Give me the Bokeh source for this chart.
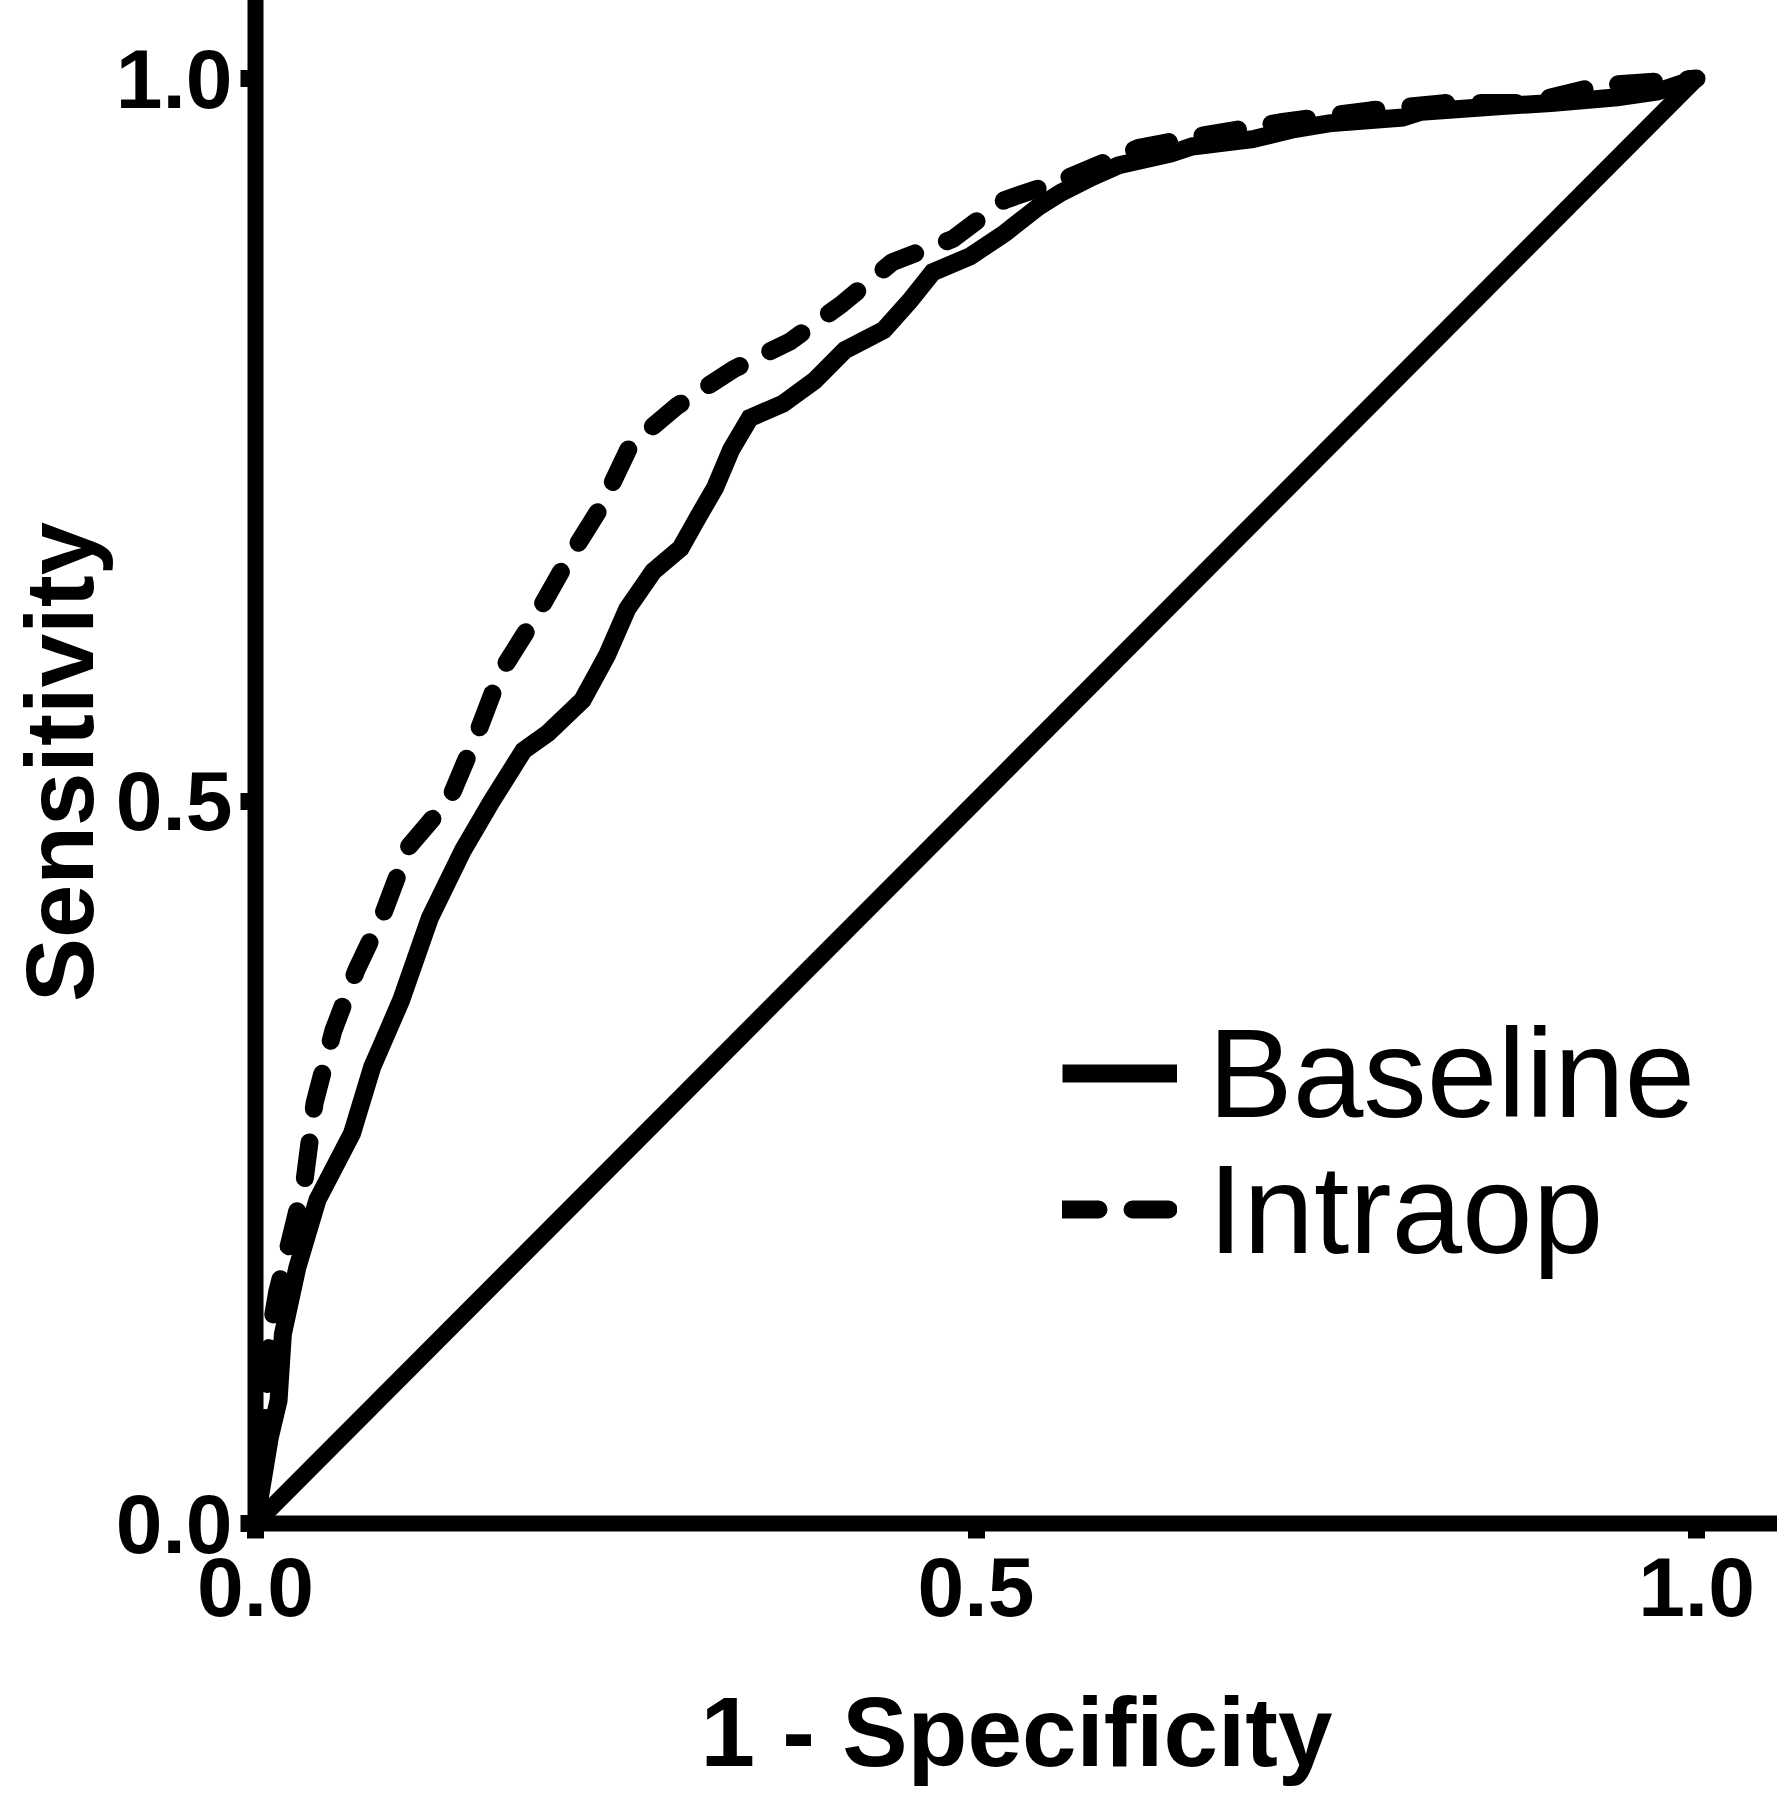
from bokeh.plotting import figure
from bokeh.models import Range1d, FixedTicker, Legend, LegendItem, PrintfTickFormatter
from bokeh.core.properties import value
from bokeh.embed import file_html
from bokeh.resources import INLINE

# ---- data (1 - specificity, sensitivity) ----
fpr_baseline = [0.0, 0.005, 0.010, 0.016, 0.019, 0.029, 0.043, 0.067, 0.081, 0.088, 0.101,
                0.121, 0.144, 0.164, 0.186, 0.203, 0.227, 0.244, 0.258, 0.276, 0.295,
                0.308, 0.319, 0.330, 0.343, 0.366, 0.388, 0.409, 0.436, 0.454, 0.470,
                0.496, 0.520, 0.543, 0.559, 0.581, 0.599, 0.635, 0.650, 0.692, 0.721,
                0.745, 0.796, 0.809, 0.865, 0.899, 0.945, 0.973, 1.0]
tpr_baseline = [0.0, 0.030, 0.060, 0.085, 0.131, 0.177, 0.224, 0.270, 0.316, 0.332, 0.362,
                0.419, 0.466, 0.500, 0.535, 0.547, 0.570, 0.601, 0.633, 0.659, 0.675,
                0.698, 0.717, 0.743, 0.765, 0.775, 0.791, 0.812, 0.826, 0.846, 0.866,
                0.877, 0.893, 0.911, 0.921, 0.932, 0.940, 0.948, 0.953, 0.958, 0.965,
                0.969, 0.973, 0.977, 0.981, 0.983, 0.987, 0.991, 1.0]

fpr_intraop = [0.0, 0.003, 0.006, 0.010, 0.015, 0.025, 0.034, 0.041, 0.054, 0.070, 0.089,
               0.106, 0.135, 0.154, 0.170, 0.194, 0.215, 0.240, 0.260, 0.292, 0.332,
               0.371, 0.407, 0.442, 0.484, 0.520, 0.558, 0.613, 0.660, 0.713, 0.774,
               0.825, 0.883, 0.932, 1.0]
tpr_intraop = [0.0, 0.020, 0.060, 0.131, 0.160, 0.200, 0.237, 0.291, 0.341, 0.383, 0.423,
               0.468, 0.502, 0.547, 0.589, 0.627, 0.664, 0.704, 0.746, 0.773, 0.799,
               0.818, 0.844, 0.873, 0.889, 0.916, 0.929, 0.952, 0.961, 0.970, 0.978,
               0.983, 0.983, 0.995, 1.0]

chance_x = [0.0, 1.0]
chance_y = [0.0, 1.0]

tick_values = [0.0, 0.5, 1.0]
series_names = ["Baseline", "Intraop"]
x_title = "1 - Specificity"
y_title = "Sensitivity"

FONT = "Liberation Sans"

p = figure(width=1777, height=1800,
           x_range=Range1d(0, 1.0562), y_range=Range1d(0, 1.054),
           output_backend="svg", toolbar_location=None,
           min_border_left=255, min_border_right=0,
           min_border_top=0, min_border_bottom=277)
p.outline_line_color = None
p.xgrid.visible = False
p.ygrid.visible = False
p.background_fill_color = "white"
p.border_fill_color = "white"

for ax in (p.xaxis[0], p.yaxis[0]):
    ax.ticker = FixedTicker(ticks=tick_values)
    ax.formatter = PrintfTickFormatter(format="%.1f")
    ax.axis_line_color = "black"
    ax.axis_line_width = 16
    ax.axis_line_cap = "square"
    ax.major_tick_line_color = "black"
    ax.major_tick_line_width = 17
    ax.major_tick_out = 15
    ax.major_tick_in = 0
    ax.minor_tick_line_color = None
    ax.major_label_text_font = FONT
    ax.major_label_text_font_style = "bold"
    ax.major_label_text_font_size = "84px"
    ax.major_label_text_color = "black"
    ax.axis_label_text_font = FONT
    ax.axis_label_text_font_style = "bold"
    ax.axis_label_text_color = "black"

p.xaxis[0].major_label_standoff = 19
p.yaxis[0].major_label_standoff = 8

p.xaxis[0].axis_label = x_title
p.xaxis[0].axis_label_text_font_size = "98px"
p.xaxis[0].axis_label_standoff = 58

p.yaxis[0].axis_label = y_title
p.yaxis[0].axis_label_text_font_size = "96px"
p.yaxis[0].axis_label_standoff = 0

p.line(chance_x, chance_y, line_color="black", line_width=17)
r_base = p.line(fpr_baseline, tpr_baseline, line_color="black", line_width=18,
                line_join="miter")
r_intra = p.line(fpr_intraop, tpr_intraop, line_color="black", line_width=18,
                 line_dash="36 34", line_cap="round", line_join="round")

legend_style = dict(glyph_width=115, glyph_height=40, label_standoff=31,
                    spacing=0, padding=0, margin=0,
                    border_line_color=None, background_fill_alpha=0,
                    label_text_font=FONT, label_text_font_size="127px",
                    label_text_color="black")
legend_base = Legend(items=[LegendItem(label=value(series_names[0]), renderers=[r_base])],
                     location=(807, 377), **legend_style)
legend_intra = Legend(items=[LegendItem(label=value(series_names[1]), renderers=[r_intra])],
                      location=(807, 241), **legend_style)
p.add_layout(legend_base)
p.add_layout(legend_intra)

open("out.html", "w").write(file_html(p, INLINE))
